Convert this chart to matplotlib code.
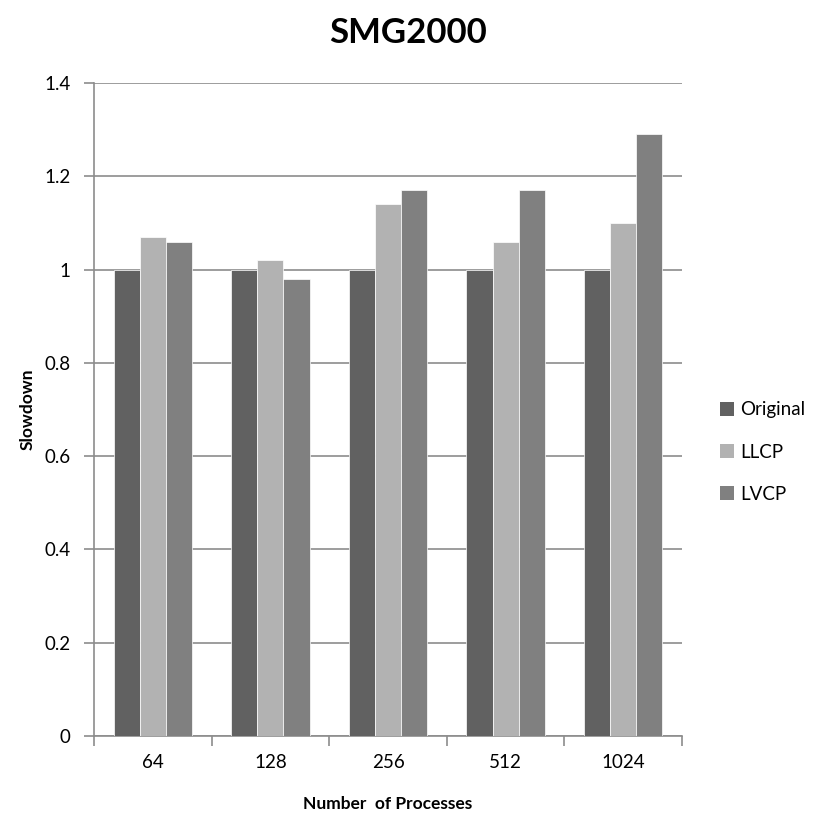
import matplotlib
matplotlib.use("Agg")
import matplotlib.pyplot as plt
import numpy as np
from matplotlib.patches import Patch

plt.rcParams['font.family'] = ['Lato', 'DejaVu Sans']

categories = ["64", "128", "256", "512", "1024"]
series_names = ["Original", "LLCP", "LVCP"]
original = [1.0, 1.0, 1.0, 1.0, 1.0]
llcp = [1.07, 1.02, 1.14, 1.06, 1.10]
lvcp = [1.06, 0.98, 1.17, 1.17, 1.29]
colors = ["#616161", "#b2b2b2", "#808080"]

fig = plt.figure(figsize=(8.16, 8.13), dpi=100)
ax = fig.add_axes([94/816, 1-736/813, (682-94)/816, (736-83)/813])

x = np.arange(len(categories))
w = 1/4.5
for i, (vals, c) in enumerate(zip([original, llcp, lvcp], colors)):
    ax.bar(x + (i-1)*w, vals, width=w, color=c, edgecolor="white", linewidth=0.5, zorder=3)

ax.set_xlim(-0.5, len(categories)-0.5)
ax.set_ylim(0, 1.4)
ax.set_yticks(np.arange(0, 1.41, 0.2))
ax.set_yticklabels(["0", "0.2", "0.4", "0.6", "0.8", "1", "1.2", "1.4"])
ax.yaxis.grid(True, color="#8c8c8c", linewidth=1.2, zorder=0)
ax.set_axisbelow(True)

ax.set_xticks(x)
ax.set_xticklabels(categories)
ax.set_xticks(np.arange(-0.5, len(categories)), minor=True)
ax.tick_params(axis="x", which="major", length=0, pad=13, labelsize=13.5)
ax.tick_params(axis="x", which="minor", length=7, width=1.2, color="#8c8c8c", direction="out")
ax.tick_params(axis="y", length=7, width=1.2, color="#8c8c8c", direction="out", pad=10, labelsize=13.5)

for s in ["top", "right"]:
    ax.spines[s].set_visible(False)
for s in ["left", "bottom"]:
    ax.spines[s].set_color("#8c8c8c")
    ax.spines[s].set_linewidth(1.2)

ax.set_xlabel("Number  of Processes", fontsize=12.5, fontweight="bold", labelpad=18)
ax.set_ylabel("Slowdown", fontsize=12.5, fontweight="bold", labelpad=6)
fig.text(0.5, 1-33/813, "SMG2000", ha="center", va="center", fontsize=25, fontweight="bold")

handles = [Patch(facecolor=c, edgecolor="none") for c in colors]
fig.legend(handles, series_names, loc="center left", bbox_to_anchor=(703/816, 1-452/813),
           frameon=False, fontsize=13.5, handlelength=0.75, handleheight=0.75,
           handletextpad=0.35, labelspacing=1.35)

fig.savefig("out.png", dpi=100)
